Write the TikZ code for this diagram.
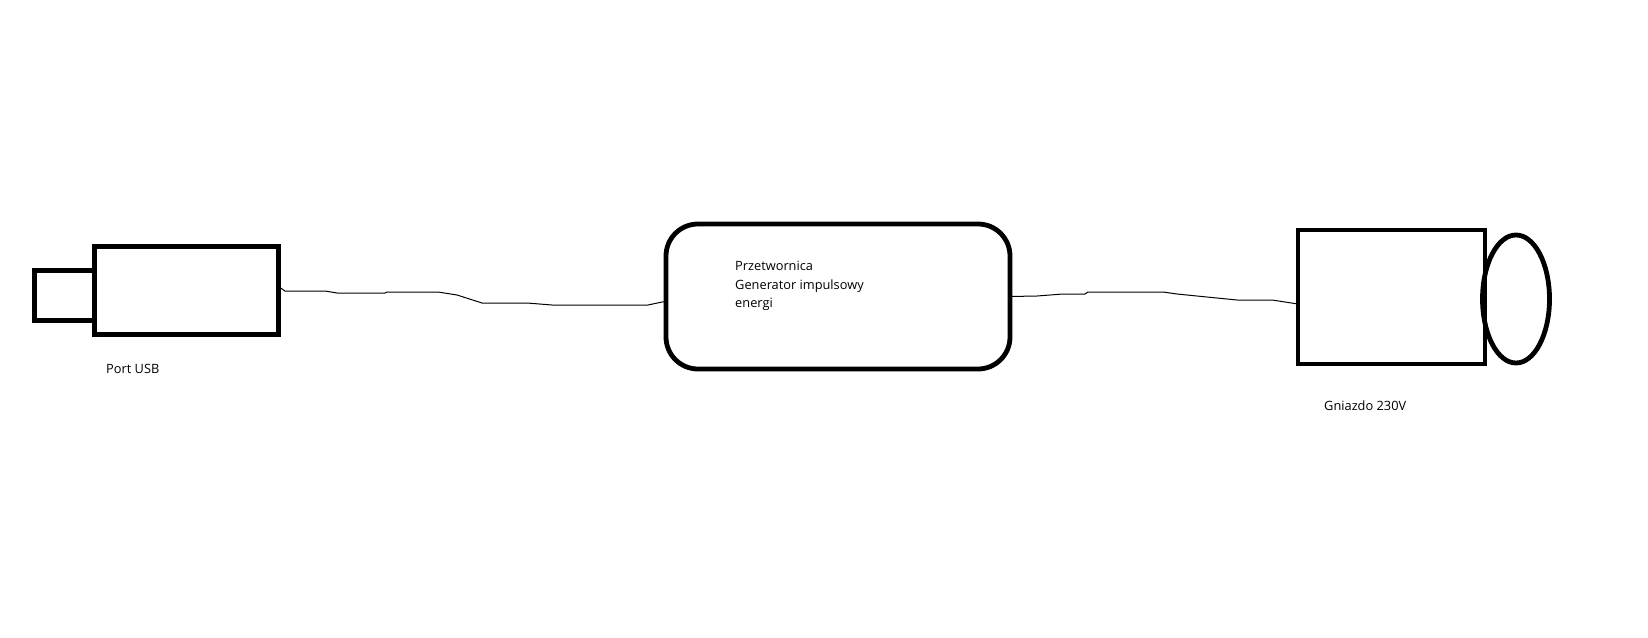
\documentclass[tikz,border=0pt]{standalone}
\usepackage{fontspec}
\setmainfont{Open Sans}
\usepackage{tikz}
\usetikzlibrary{
	positioning,
	shapes.geometric
}

\begin{document}
\begin{tikzpicture}[x=1pt, y=-1pt,
		blok/.style={draw, line width=4.8pt, inner sep=0pt, outer sep=0pt},
		przewod/.style={line width=1pt},
		opis/.style={font=\fontsize{12.8}{18.5}\selectfont, inner sep=0pt}]
		\useasboundingbox[fill=white] (0,0) rectangle (1648,637);
		
		% port USB
		\node[blok, minimum width=184pt, minimum height=88pt] (usb) at (186.5,290.5) {};
		\node[blok, minimum width=60pt, minimum height=50pt, left=0pt of usb, yshift=-5pt] (wtyk) {};
		\node[opis, anchor=west] (usbtxt) at (106,369) {Port USB};
		
		% przetwornica
		\node[blok, rounded corners=32pt, minimum width=344pt, minimum height=145pt] (conv) at (838,296.5) {};
		\node[opis, anchor=west, align=left] (convtxt) at (735,286) {Przetwornica\\Generator impulsowy\\energi};
		
		% gniazdo 230V
		\node[blok, minimum width=187pt, minimum height=134pt] (gniazdo) at (1391.5,297) {};
		\node[blok, ellipse, minimum width=67pt, minimum height=128pt] (kolo) at (1516,299) {};
		\node[opis, anchor=west] (gntxt) at (1324,406) {Gniazdo 230V};
		
		% przewody
		\draw[przewod] ([yshift=4pt]usb.east) -- (285,291) -- (325,291) -- (337,293) -- (385,293)
			-- (387,292) -- (438,292) -- (457,295) -- (482,303) -- (527,303) -- (552,305)
			-- (648,305) -- (662,302) -- ([yshift=-5pt]conv.west);
		\draw[przewod] (conv.east) -- (1037,296) -- (1063,294) -- (1085,294) -- (1088,292)
			-- (1163,292) -- (1177,294) -- (1217,298) -- (1237,300) -- (1272,300)
			-- ([yshift=-7pt]gniazdo.west);
	\end{tikzpicture}
\end{document}
